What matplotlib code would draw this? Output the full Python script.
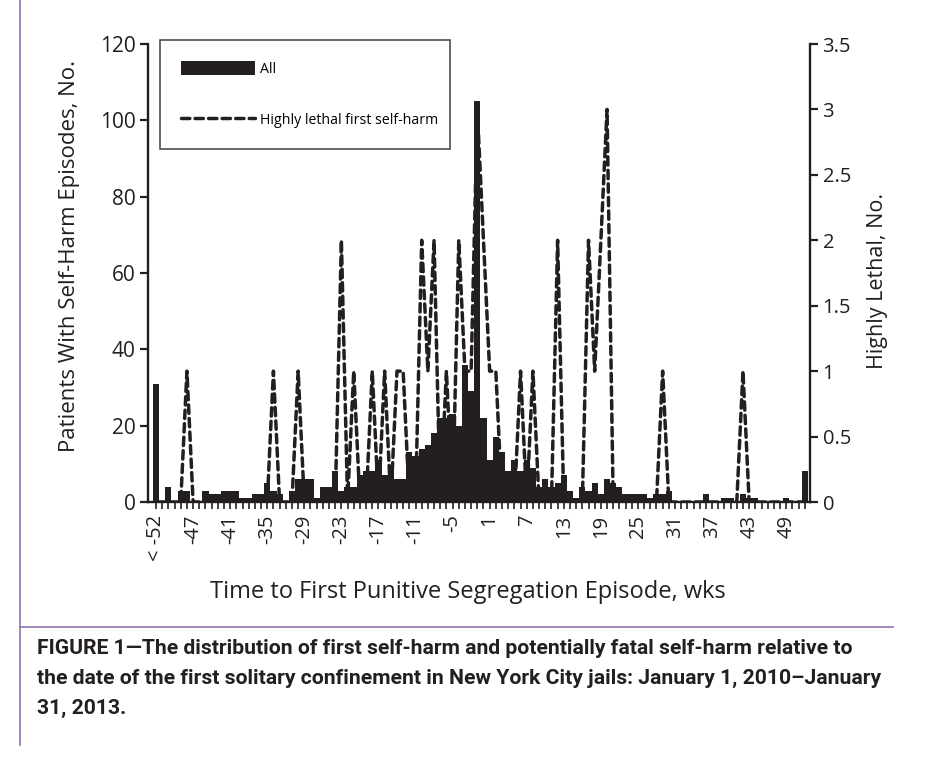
import matplotlib
matplotlib.use("Agg")
import matplotlib.pyplot as plt
from matplotlib.lines import Line2D
from matplotlib.patches import Patch

INK = "#231f20"
RULE = "#9c7db3"
W, H = 944, 758

# weeks relative to first punitive segregation; first bin collects everything before -52
categories = ["< -52"] + [str(w) for w in range(-52, 53)]
all_counts = [
    31, 0, 4, 0, 3, 3, 0, 0, 3, 2, 2, 3, 3, 3, 1, 1, 2, 2, 5, 3,
    2, 0, 3, 6, 6, 6, 1, 4, 4, 8, 3, 4, 4, 7, 8, 8, 11, 7, 9, 6,
    6, 13, 12, 14, 15, 18, 22, 22, 23, 20, 36, 29, 105, 22, 11, 17, 13, 8, 11, 8,
    11, 9, 4, 6, 4, 5, 7, 3, 1, 4, 3, 5, 2, 6, 5, 4, 2, 2, 2, 2,
    1, 2, 2, 3, 0, 0, 0, 0, 0, 2, 0, 0, 1, 1, 0, 2, 1, 1, 0, 0,
    0, 0, 1, 0, 0, 8,
]
lethal_counts = [
    0, 0, 0, 0, 0, 1, 0, 0, 0, 0, 0, 0, 0, 0, 0, 0, 0, 0, 0, 1,
    0, 0, 0, 1, 0, 0, 0, 0, 0, 0, 2, 0, 1, 0, 0, 1, 0, 1, 0, 1,
    1, 0, 0, 2, 1, 2, 0, 1, 0, 2, 1, 1, 3, 2, 1, 1, 0, 0, 0, 1,
    0, 1, 0, 0, 0, 2, 0, 0, 0, 0, 2, 1, 2, 3, 0, 0, 0, 0, 0, 0,
    0, 0, 1, 0, 0, 0, 0, 0, 0, 0, 0, 0, 0, 0, 0, 1, 0, 0, 0, 0,
    0, 0, 0, 0, 0, 0,
]
left_ticks = [0, 20, 40, 60, 80, 100, 120]
right_ticks = [0, 0.5, 1, 1.5, 2, 2.5, 3, 3.5]
right_tick_labels = ["0", "0.5", "1", "1.5", "2", "2.5", "3", "3.5"]

caption = [
    "FIGURE 1\u2014The distribution of first self-harm and potentially fatal self-harm relative to",
    "the date of the first solitary confinement in New York City jails: January 1, 2010\u2013January",
    "31, 2013.",
]

plt.rcParams["font.family"] = ["Open Sans", "DejaVu Sans"]

fig = plt.figure(figsize=(W / 100, H / 100), dpi=100)
fig.patch.set_facecolor("white")
ax = fig.add_axes([148 / W, 1 - 502 / H, 662 / W, 458 / H])

x = list(range(len(categories)))
ax.bar(x, all_counts, width=1.0, color=INK, linewidth=0, zorder=2)
ax.set_xlim(-1.3, 105.85)
ax.set_ylim(0, 120)
ax.set_yticks(left_ticks)

labels = [c if i % 6 == 0 else "" for i, c in enumerate(categories)]
ax.set_xticks(x)
ax.set_xticklabels(labels, rotation=90)

ax2 = ax.twinx()
ax2.plot(x, lethal_counts, color=INK, lw=2.5, dashes=(2.4, 1.5),
         dash_capstyle="round", solid_joinstyle="round")
ax2.set_ylim(0, 3.5)
ax2.set_yticks(right_ticks)
ax2.set_yticklabels(right_tick_labels)

for a in (ax, ax2):
    a.spines["top"].set_visible(False)
    for s in ("left", "right", "bottom"):
        a.spines[s].set_linewidth(1.7)
        a.spines[s].set_color(INK)
ax.spines["right"].set_visible(False)
ax2.spines["left"].set_visible(False)
ax2.spines["bottom"].set_visible(False)

ax.tick_params(axis="y", direction="out", length=6, width=1.6, labelsize=15,
               pad=3, colors=INK)
ax.tick_params(axis="x", direction="out", length=5, width=1.2, labelsize=14.5,
               pad=4, colors=INK)
ax2.tick_params(axis="y", direction="out", length=6, width=1.6, labelsize=14.5,
                pad=3, colors=INK)

handles = [Patch(facecolor=INK, edgecolor="none"),
           Line2D([], [], color=INK, lw=2.5, dashes=(2.4, 1.5), dash_capstyle="round")]
leg = ax.legend(handles, ["All", "Highly lethal first self-harm"],
                loc="upper left", bbox_to_anchor=(0.018, 1.009, 0.438, 0),
                mode="expand", borderaxespad=0, fontsize=10.2, handlelength=5.2,
                handleheight=1.1, labelspacing=2.5, borderpad=1.5,
                handletextpad=0.4, fancybox=False, frameon=True)
leg.get_frame().set_edgecolor(INK)
leg.get_frame().set_linewidth(1.2)

fig.text(70 / W, 1 - 256 / H, "Patients With Self-Harm Episodes, No.",
         rotation=90, ha="center", va="center", fontsize=16, color=INK)
fig.text(878 / W, 1 - 281 / H, "Highly Lethal, No.",
         rotation=90, ha="center", va="center", fontsize=15.5, color=INK)
fig.text(468 / W, 1 - 592 / H, "Time to First Punitive Segregation Episode, wks",
         ha="center", va="center", fontsize=17, color=INK)

# caption block
fig.add_artist(Line2D([20 / W, 20 / W], [1, 1 - 745 / H], transform=fig.transFigure,
                      color=RULE, lw=1.3))
fig.add_artist(Line2D([20 / W, 893 / W], [1 - 627 / H, 1 - 627 / H],
                      transform=fig.transFigure, color=RULE, lw=1.3))
for i, line in enumerate(caption):
    fig.text(37 / W, 1 - (648 + 30 * i) / H, line, ha="left", va="center",
             fontsize=15.2, fontweight="bold", color=INK,
             family=["Roboto", "DejaVu Sans"])

fig.savefig("out.png", dpi=100, facecolor="white")
